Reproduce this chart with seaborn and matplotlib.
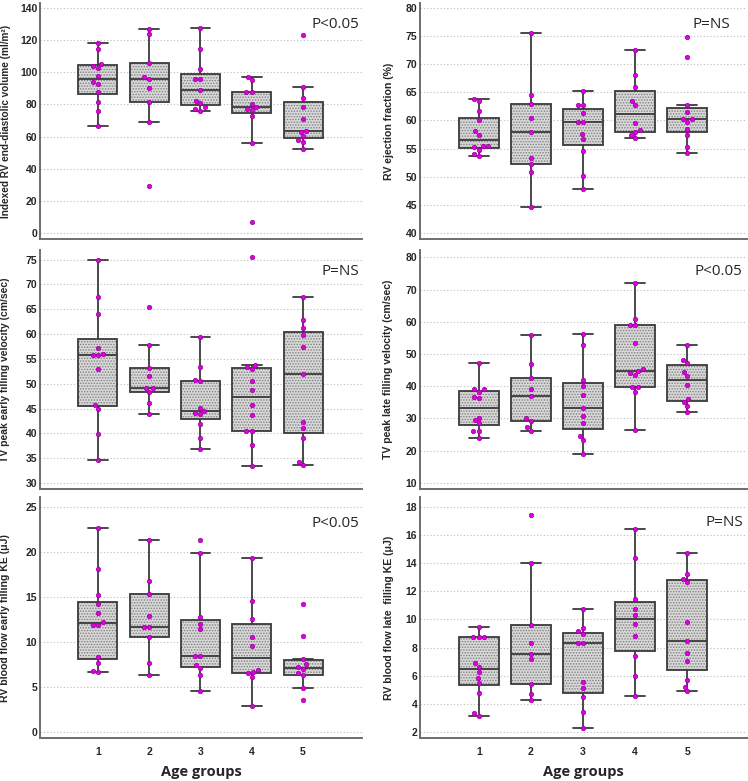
import numpy as np
import pandas as pd
import matplotlib
matplotlib.use("Agg")
import matplotlib.pyplot as plt
import seaborn as sns
from matplotlib.ticker import MultipleLocator, AutoMinorLocator

# ---------------- data ----------------
groups = ["1", "2", "3", "4", "5"]

edv = [
    [118.4, 114.3, 105.0, 104.0, 102.5, 97.5, 94.2, 92.8, 88.0, 81.2, 75.8, 66.3],
    [127.1, 123.6, 105.5, 97.3, 95.9, 90.1, 81.5, 69.2, 29.2],
    [127.5, 114.3, 102.0, 95.7, 95.7, 89.0, 82.2, 80.6, 78.3, 77.4, 76.2],
    [97.3, 95.3, 87.8, 87.6, 80.3, 78.2, 77.4, 76.4, 73.0, 55.9, 6.8],
    [123.0, 91.1, 84.3, 78.5, 71.2, 63.4, 63.0, 60.1, 57.6, 56.7, 52.0],
]
ef = [
    [63.8, 63.5, 61.7, 60.1, 58.2, 57.5, 55.5, 55.4, 55.3, 54.8, 54.0, 53.7],
    [75.6, 64.6, 63.0, 60.4, 57.9, 53.3, 52.2, 50.9, 44.7],
    [65.3, 62.8, 62.7, 61.3, 59.8, 59.8, 57.6, 56.7, 54.6, 50.1, 47.9],
    [72.5, 68.0, 65.9, 63.5, 62.7, 59.6, 58.3, 57.9, 57.4, 56.9],
    [74.8, 71.3, 62.8, 61.5, 60.3, 60.3, 59.8, 58.4, 57.4, 55.2, 54.2],
]
early_vel = [
    [74.9, 67.4, 64.0, 57.3, 55.9, 55.8, 55.8, 53.0, 45.8, 45.0, 39.9, 34.6],
    [65.4, 57.9, 53.2, 51.5, 49.2, 49.2, 48.4, 46.2, 43.9],
    [59.5, 53.3, 50.8, 50.5, 45.2, 44.6, 44.2, 43.9, 41.8, 39.1, 36.8],
    [75.5, 53.8, 53.4, 53.0, 50.5, 48.8, 45.7, 43.7, 40.4, 40.4, 37.7, 33.4],
    [67.4, 62.9, 61.2, 59.8, 57.5, 52.0, 42.2, 41.0, 39.1, 34.3, 33.6],
]
late_vel = [
    [47.1, 39.0, 39.0, 38.3, 36.6, 36.3, 30.1, 29.4, 28.4, 26.2, 26.2, 23.8],
    [55.9, 46.8, 42.6, 39.0, 36.9, 30.2, 29.3, 27.3, 26.2],
    [56.1, 52.7, 42.0, 40.0, 37.3, 33.2, 30.8, 28.5, 24.6, 23.2, 18.8],
    [72.1, 60.9, 58.9, 58.9, 53.4, 45.2, 44.7, 44.0, 43.3, 39.6, 39.6, 38.3, 26.5],
    [52.8, 48.0, 47.1, 44.4, 43.2, 40.3, 35.9, 35.0, 33.8, 32.1],
]
early_ke = [
    [22.6, 18.1, 15.2, 14.2, 13.2, 12.2, 11.9, 11.9, 8.3, 7.7, 6.8, 6.7],
    [21.3, 16.8, 15.35, 12.9, 11.7, 11.6, 10.5, 7.7, 6.3],
    [21.3, 19.9, 12.8, 12.0, 11.4, 8.4, 8.4, 7.4, 7.1, 6.3, 4.6],
    [19.3, 14.5, 12.5, 10.5, 9.5, 6.9, 6.7, 6.5, 6.1, 2.9],
    [14.2, 10.6, 8.1, 7.5, 7.2, 7.0, 6.6, 6.3, 4.9, 3.6],
]
late_ke = [
    [9.43, 8.75, 8.75, 8.75, 6.92, 6.64, 6.24, 5.86, 5.5, 4.79, 3.37, 3.16],
    [17.4, 14.0, 9.6, 8.3, 7.54, 7.16, 5.4, 4.7, 4.25],
    [10.76, 9.4, 9.15, 8.96, 8.3, 8.3, 5.53, 5.1, 4.46, 3.44, 2.3],
    [16.44, 14.38, 11.44, 10.73, 10.33, 9.69, 8.84, 7.42, 5.95, 4.56],
    [14.7, 13.2, 12.9, 12.65, 9.79, 8.49, 7.63, 7.07, 5.67, 5.22, 4.89],
]

ylabels = [
    "Indexed RV end-diastolic volume (ml/m²)",
    "RV ejection fraction (%)",
    "TV peak early filling velocity (cm/sec)",
    "TV peak late filling velocity (cm/sec)",
    "RV blood flow early filling KE (μJ)",
    "RV blood flow late  filling KE (μJ)",
]
pvalues = ["P<0.05", "P=NS", "P=NS", "P<0.05", "P<0.05", "P=NS"]
xlabel = "Age groups"

series = [edv, ef, early_vel, late_vel, early_ke, late_ke]

# ---------------- style ----------------
sns.set_theme(style="white")
plt.rcParams["font.family"] = ["Liberation Sans", "DejaVu Sans"]
plt.rcParams["hatch.linewidth"] = 0.7

W, H = 748, 781
fig = plt.figure(figsize=(W / 100, H / 100), dpi=100)

cols_px = [(40, 362), (420, 747)]
rows_px = [(3, 239), (250, 489.3), (497, 738.3)]
ylims = [(-3.73, 143.1), (38.93, 80.89), (28.73, 76.95),
         (7.95, 82.27), (-0.70, 26.08), (1.553, 18.69)]
majors = [20, 5, 5, 10, 5, 2]
ptext_y = [0.907, 0.907, 0.912, 0.912, 0.892, 0.896]
ptext_x = [0.99, 0.948, 0.99, 0.987, 0.99, 0.99]
ylab_x = [-0.090, -0.080, -0.092, -0.082, -0.092, -0.080]
ylab_fs = [7.2, 7.6, 7.5, 7.6, 7.6, 7.6]

spine_col = "#6e6e6e"
box_edge = "#3a3a3a"

for i, (vals, ylab) in enumerate(zip(series, ylabels)):
    r, c = divmod(i, 2)
    x0, x1 = cols_px[c]
    top, bot = rows_px[r]
    ax = fig.add_axes([x0 / W, 1 - bot / H, (x1 - x0) / W, (bot - top) / H])

    df = pd.DataFrame({
        "group": [g for g, v in zip(groups, vals) for _ in v],
        "value": [x for v in vals for x in v],
    })

    ax.yaxis.grid(True, linestyle=(0, (1, 2)), color="#bdbdbd", linewidth=0.8)
    ax.set_axisbelow(True)

    sns.boxplot(data=df, x="group", y="value", order=groups, width=0.76,
                color="#d8d8d8", linecolor=box_edge, linewidth=1.3,
                showfliers=False, saturation=1, ax=ax)
    for p in ax.patches:
        p.set_hatch("......")
        try:
            p._hatch_color = (0.5, 0.5, 0.5, 1.0)
        except Exception:
            pass

    sns.swarmplot(data=df, x="group", y="value", order=groups, color="#e000e0",
                  edgecolor="#9a009a", linewidth=0.5, size=3.2, ax=ax, zorder=5)

    ax.set_xlim(-1.13, 5.15)
    ax.set_ylim(*ylims[i])
    ax.yaxis.set_major_locator(MultipleLocator(majors[i]))
    ax.yaxis.set_minor_locator(AutoMinorLocator(2))

    for s in ["top", "right"]:
        ax.spines[s].set_visible(False)
    for s in ["left", "bottom"]:
        ax.spines[s].set_color(spine_col)
        ax.spines[s].set_linewidth(1.4)

    ax.tick_params(axis="both", which="both", direction="in", color=spine_col,
                   width=1.0)
    ax.tick_params(axis="both", which="major", length=4.5)
    ax.tick_params(axis="y", which="minor", length=3)
    ax.tick_params(axis="y", pad=2, labelsize=7.5)
    ax.tick_params(axis="x", pad=6, labelsize=7.5)
    for t in ax.get_yticklabels() + ax.get_xticklabels():
        t.set_fontweight("bold")

    ax.set_ylabel(ylab, fontsize=ylab_fs[i], fontweight="bold")
    ax.yaxis.set_label_coords(ylab_x[i], 0.5)

    if r < 2:
        ax.tick_params(axis="x", labelbottom=False)
        ax.set_xlabel("")
    else:
        ax.set_xlabel(xlabel, fontsize=10.5, fontweight="bold", family="Open Sans")
        ax.xaxis.set_label_coords(0.5, -0.11)

    ax.text(ptext_x[i], ptext_y[i], pvalues[i], transform=ax.transAxes,
            ha="right", va="center", fontsize=11, fontweight="normal",
            family="Open Sans")

fig.savefig("out.png", dpi=100)
